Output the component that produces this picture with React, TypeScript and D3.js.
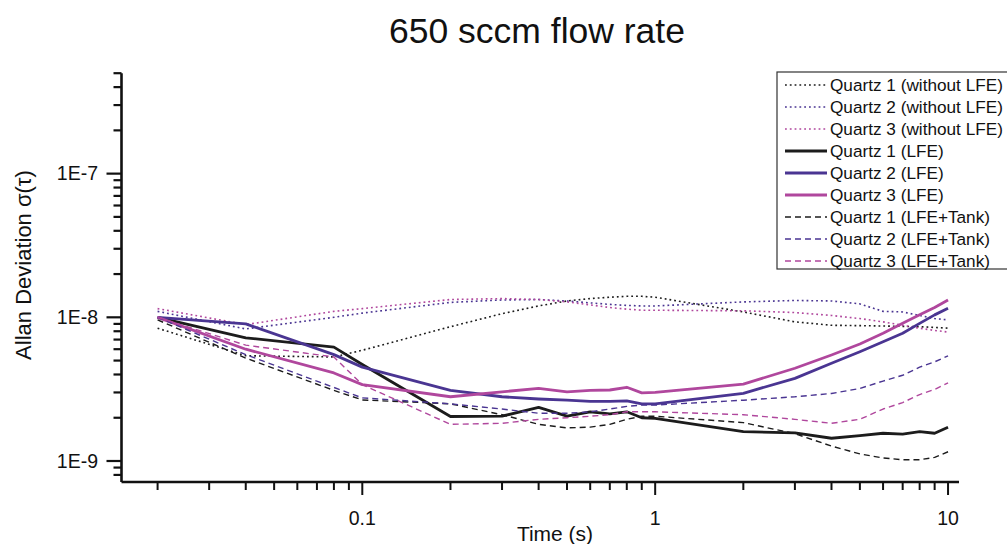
import React from "react";
import * as d3 from "d3";

const tau = [0.02, 0.04, 0.08, 0.1, 0.2, 0.3, 0.4, 0.5, 0.6, 0.7, 0.8, 0.9, 1, 2, 3, 4, 5, 6, 7, 8, 9, 10];

const q1NoLfe = [8.4e-9, 5.4e-9, 5.3e-9, 5.9e-9, 8.6e-9, 1.06e-8, 1.2e-8, 1.3e-8, 1.35e-8, 1.38e-8, 1.4e-8, 1.4e-8, 1.38e-8, 1.09e-8, 9.3e-9, 8.8e-9, 8.75e-9, 8.7e-9, 8.65e-9, 8.6e-9, 8.5e-9, 8.4e-9];
const q2NoLfe = [1.1e-8, 8.3e-9, 1.0e-8, 1.07e-8, 1.27e-8, 1.32e-8, 1.33e-8, 1.3e-8, 1.26e-8, 1.23e-8, 1.21e-8, 1.2e-8, 1.2e-8, 1.28e-8, 1.31e-8, 1.3e-8, 1.24e-8, 1.1e-8, 1.09e-8, 1.03e-8, 9.8e-9, 9.6e-9];
const q3NoLfe = [1.15e-8, 8.9e-9, 1.1e-8, 1.15e-8, 1.33e-8, 1.35e-8, 1.33e-8, 1.28e-8, 1.22e-8, 1.17e-8, 1.14e-8, 1.12e-8, 1.12e-8, 1.11e-8, 1.08e-8, 1.03e-8, 9.8e-9, 9.3e-9, 8.8e-9, 8.4e-9, 8.1e-9, 7.9e-9];

const q1Lfe = [1.0e-8, 7.2e-9, 6.2e-9, 4.7e-9, 2.04e-9, 2.05e-9, 2.36e-9, 2.05e-9, 2.2e-9, 2.13e-9, 2.2e-9, 2.0e-9, 1.98e-9, 1.6e-9, 1.57e-9, 1.44e-9, 1.5e-9, 1.56e-9, 1.54e-9, 1.6e-9, 1.56e-9, 1.72e-9];
const q2Lfe = [1.0e-8, 9.0e-9, 5.5e-9, 4.5e-9, 3.1e-9, 2.8e-9, 2.7e-9, 2.65e-9, 2.6e-9, 2.6e-9, 2.62e-9, 2.5e-9, 2.5e-9, 2.96e-9, 3.76e-9, 4.79e-9, 5.76e-9, 6.76e-9, 7.74e-9, 9.08e-9, 1.04e-8, 1.155e-8];
const q3Lfe = [1.0e-8, 6.0e-9, 4.1e-9, 3.4e-9, 2.8e-9, 3.03e-9, 3.2e-9, 3.03e-9, 3.1e-9, 3.12e-9, 3.26e-9, 2.98e-9, 3.0e-9, 3.43e-9, 4.42e-9, 5.47e-9, 6.52e-9, 7.74e-9, 9.08e-9, 1.04e-8, 1.17e-8, 1.32e-8];

const q1Tank = [9.6e-9, 5.2e-9, 3.1e-9, 2.66e-9, 2.5e-9, 2.1e-9, 1.8e-9, 1.7e-9, 1.72e-9, 1.8e-9, 1.95e-9, 2.05e-9, 2.05e-9, 1.85e-9, 1.55e-9, 1.27e-9, 1.12e-9, 1.05e-9, 1.02e-9, 1.02e-9, 1.06e-9, 1.16e-9];
const q2Tank = [1.0e-8, 5.5e-9, 3.25e-9, 2.75e-9, 2.5e-9, 2.3e-9, 2.15e-9, 2.15e-9, 2.2e-9, 2.3e-9, 2.4e-9, 2.45e-9, 2.45e-9, 2.65e-9, 2.8e-9, 2.95e-9, 3.2e-9, 3.6e-9, 3.95e-9, 4.5e-9, 4.9e-9, 5.4e-9];
const q3Tank = [1.0e-8, 6.4e-9, 5.3e-9, 3.4e-9, 1.8e-9, 1.83e-9, 1.95e-9, 2.0e-9, 2.05e-9, 2.1e-9, 2.2e-9, 2.2e-9, 2.2e-9, 2.1e-9, 1.95e-9, 1.83e-9, 1.95e-9, 2.3e-9, 2.55e-9, 2.9e-9, 3.15e-9, 3.5e-9];

const seriesNames = [
  "Quartz 1 (without LFE)",
  "Quartz 2 (without LFE)",
  "Quartz 3 (without LFE)",
  "Quartz 1 (LFE)",
  "Quartz 2 (LFE)",
  "Quartz 3 (LFE)",
  "Quartz 1 (LFE+Tank)",
  "Quartz 2 (LFE+Tank)",
  "Quartz 3 (LFE+Tank)",
];
const seriesValues = [q1NoLfe, q2NoLfe, q3NoLfe, q1Lfe, q2Lfe, q3Lfe, q1Tank, q2Tank, q3Tank];

const yTickLabels = ["1E-9", "1E-8", "1E-7"];
const xTickLabels = ["0.1", "1", "10"];

const COLORS = ["#1c1c1c", "#4a3592", "#b0479d"];
const FONT = "'Liberation Sans', Arial, Helvetica, sans-serif";

function styleFor(i: number) {
  const color = COLORS[i % 3];
  const kind = Math.floor(i / 3);
  if (kind === 0) return { stroke: color, strokeWidth: 1.6, dash: "1.8,3" };
  if (kind === 1) return { stroke: color, strokeWidth: 2.8, dash: "none" };
  return { stroke: color, strokeWidth: 1.4, dash: "6,4" };
}

export default function App() {
  const W = 1007;
  const H = 544;
  const x = d3.scaleLog().domain([0.015, 10.9]).range([121, 959]);
  const y = d3.scaleLog().domain([7.2e-10, 5e-7]).range([481.5, 73.2]);

  const line = d3
    .line<number>()
    .x((_, i) => x(tau[i]))
    .y((v) => y(v));

  const yTicks = y.ticks();
  const xTicks = x.ticks();
  const isMajor = (v: number) => {
    const m = v / Math.pow(10, Math.floor(Math.log10(v) + 1e-9));
    return Math.abs(m - 1) < 1e-6;
  };

  const axisX0 = 121.5;
  const axisY0 = 482;

  const legendX = 777;
  const legendY = 72;
  const rowH = 22;

  return (
    <svg width={W} height={H} style={{ display: "block", position: "absolute", left: 0, top: 0 }} fontFamily={FONT}>
      <rect x={0} y={0} width={W} height={H} fill="#fff" />
      <text x={537} y={43} textAnchor="middle" fontSize={35.5} fill="#111">
        650 sccm flow rate
      </text>

      {seriesValues.map((vals, i) => {
        const s = styleFor(i);
        return (
          <path
            key={i}
            d={line(vals) || ""}
            fill="none"
            stroke={s.stroke}
            strokeWidth={s.strokeWidth}
            strokeDasharray={s.dash}
            strokeLinejoin="round"
          />
        );
      })}

      {/* axes */}
      <line x1={axisX0} y1={y.range()[1]} x2={axisX0} y2={axisY0} stroke="#111" strokeWidth={2.6} />
      <line x1={axisX0} y1={axisY0} x2={x.range()[1]} y2={axisY0} stroke="#111" strokeWidth={2.6} />

      {yTicks.map((t, i) => {
        const major = isMajor(t);
        const yy = y(t);
        return (
          <line key={"yt" + i} x1={axisX0 - (major ? 15 : 8)} x2={axisX0} y1={yy} y2={yy} stroke="#111" strokeWidth={2.2} />
        );
      })}
      {yTicks.filter(isMajor).map((t, i) => (
        <text key={"yl" + i} x={98} y={y(t)} dy="0.35em" textAnchor="end" fontSize={19.5} fill="#111">
          {yTickLabels[Math.round(Math.log10(t)) + 9]}
        </text>
      ))}

      {xTicks.map((t, i) => {
        const major = isMajor(t);
        const xx = x(t);
        return (
          <line key={"xt" + i} x1={xx} x2={xx} y1={axisY0} y2={axisY0 + (major ? 13 : 8)} stroke="#111" strokeWidth={2} />
        );
      })}
      {xTicks.filter(isMajor).map((t, i) => (
        <text key={"xl" + i} x={x(t)} y={525} textAnchor="middle" fontSize={19.5} fill="#111">
          {xTickLabels[Math.round(Math.log10(t)) + 1]}
        </text>
      ))}

      <text x={555} y={541} textAnchor="middle" fontSize={21} fill="#111">
        Time (s)
      </text>
      <text transform="translate(31,265) rotate(-90)" textAnchor="middle" fontSize={22} fill="#111">
        Allan Deviation σ(τ)
      </text>

      {/* legend */}
      <rect x={legendX} y={legendY} width={260} height={197} fill="#fff" stroke="#333" strokeWidth={1.2} />
      {seriesNames.map((name, i) => {
        const s = styleFor(i);
        const cy = legendY + 13 + i * rowH;
        return (
          <g key={"lg" + i}>
            <line x1={785} x2={827} y1={cy} y2={cy} stroke={s.stroke} strokeWidth={s.strokeWidth} strokeDasharray={s.dash} />
            <text x={830} y={cy} dy="0.36em" fontSize={17.2} fill="#111">
              {name}
            </text>
          </g>
        );
      })}
    </svg>
  );
}
